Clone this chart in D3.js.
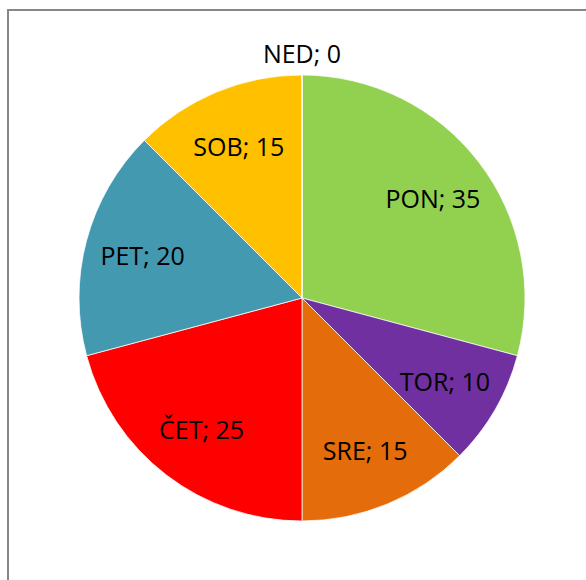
<!DOCTYPE html>
<html>
<head>
<meta charset="utf-8">
<script src="https://cdn.jsdelivr.net/npm/d3@7"></script>
<style>
  body { margin: 0; background: #fff; }
  text { font-family: "Open Sans", sans-serif; }
</style>
</head>
<body>
<div id="chart"></div>
<script>
// days of week, values as labelled in the pie
var days = ['PON', 'TOR', 'SRE', 'ČET', 'PET', 'SOB', 'NED'];
var values = [35, 10, 15, 25, 20, 15, 0];
var colors = ['#92D050', '#7030A0', '#E46C0A', '#FF0000', '#4399B0', '#FFC000', '#8064A2'];

var width = 586, height = 580;
var cx = 302, cy = 298, radius = 223;

var svg = d3.select('#chart').append('svg')
    .attr('width', width)
    .attr('height', height);

// chart area frame (runs off the right / bottom)
svg.append('rect')
    .attr('x', 8)
    .attr('y', 10)
    .attr('width', 600)
    .attr('height', 600)
    .attr('fill', 'none')
    .attr('stroke', '#878787')
    .attr('stroke-width', 2);

var data = days.map(function(d, i) {
    return { day: d, value: values[i], color: colors[i] };
});

var pie = d3.pie()
    .sort(null)
    .value(function(d) { return d.value; });

var arc = d3.arc().innerRadius(0).outerRadius(radius);
var labelArc = d3.arc().innerRadius(radius * 0.74).outerRadius(radius * 0.74);
var outerArc = d3.arc().innerRadius(radius * 1.1).outerRadius(radius * 1.1);

var g = svg.append('g')
    .attr('transform', 'translate(' + cx + ',' + cy + ')');

var arcs = pie(data);

g.selectAll('path')
    .data(arcs)
    .enter()
    .append('path')
    .attr('d', arc)
    .attr('fill', function(d) { return d.data.color; })
    .attr('stroke', '#fff')
    .attr('stroke-width', 0.75);

g.selectAll('text')
    .data(arcs)
    .enter()
    .append('text')
    .attr('transform', function(d) {
        var p = d.data.value === 0 ? outerArc.centroid(d) : labelArc.centroid(d);
        return 'translate(' + p[0] + ',' + p[1] + ')';
    })
    .attr('text-anchor', 'middle')
    .attr('dominant-baseline', 'central')
    .attr('font-size', 25)
    .attr('fill', '#000')
    .text(function(d) { return d.data.day + '; ' + d.data.value; });
</script>
</body>
</html>
